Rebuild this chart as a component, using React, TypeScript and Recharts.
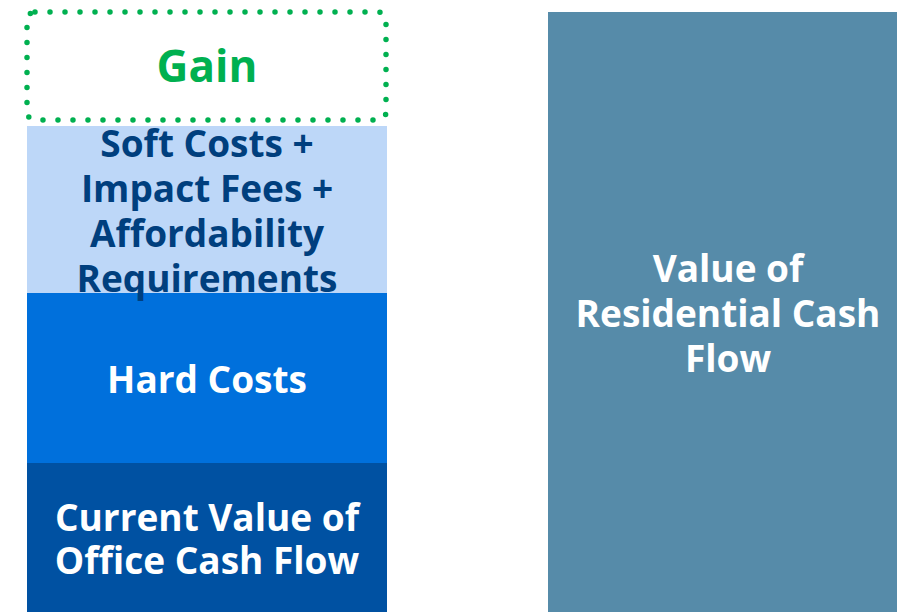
import React from 'react'
import { BarChart, Bar, XAxis, YAxis, LabelList } from 'recharts'

// Two stacked columns: office conversion build-up vs residential value
const categories = ['Office', 'Residential']
const officeValue = [149, 0]
const hardCosts = [170, 0]
const softCosts = [167, 0]
const gain = [114, 0]
const residentialValue = [0, 600]

const officeLines = ['Current Value of', 'Office Cash Flow']
const hardLines = ['Hard Costs']
const softLines = ['Soft Costs +', 'Impact Fees +', 'Affordability', 'Requirements']
const gainLines = ['Gain']
const residentialLines = ['Value of', 'Residential Cash', 'Flow']

const data = categories.map((name, i) => ({
  name,
  office: officeValue[i],
  hard: hardCosts[i],
  soft: softCosts[i],
  gain: gain[i],
  residential: residentialValue[i],
}))

const FONT = '"Open Sans", "Noto Sans", sans-serif'

function makeLabel(lines: string[], color: string, fontSize: number, lineHeight: number) {
  return (props: any) => {
    const { x, y, width, height, value } = props
    if (!value) return null
    const cx = Number(x) + Number(width) / 2
    const cy = Number(y) + Number(height) / 2
    const startY = cy - ((lines.length - 1) * lineHeight) / 2
    return (
      <text
        textAnchor="middle"
        fill={color}
        fontFamily={FONT}
        fontWeight={700}
        fontSize={fontSize}
      >
        {lines.map((l, i) => (
          <tspan key={i} x={cx} y={startY + i * lineHeight} dominantBaseline="central">
            {l}
          </tspan>
        ))}
      </text>
    )
  }
}

const GainShape = (props: any) => {
  const { x, y, width, height } = props
  if (!height) return null
  return (
    <rect
      x={x}
      y={y}
      width={width - 1}
      height={height - 6}
      rx={8}
      ry={8}
      fill="#ffffff"
      stroke="#00b050"
      strokeWidth={5.5}
      strokeDasharray="0 15"
      strokeLinecap="round"
    />
  )
}

export default function App() {
  return (
    <div
      style={{
        position: 'absolute',
        left: 0,
        top: 0,
        width: 897,
        height: 612,
        overflow: 'hidden',
        background: '#fff',
      }}
    >
      <div style={{ position: 'absolute', left: -54.5, top: 0 }}>
        <BarChart
          width={1042}
          height={612}
          data={data}
          margin={{ top: 12, right: 0, bottom: 0, left: 0 }}
          barSize={360}
        >
          <XAxis dataKey="name" hide />
          <YAxis hide domain={[0, 600]} />
          <Bar dataKey="office" stackId="a" fill="#0051a2" isAnimationActive={false}>
            <LabelList dataKey="office" content={makeLabel(officeLines, '#ffffff', 37, 43)} />
          </Bar>
          <Bar dataKey="hard" stackId="a" fill="#0070dc" isAnimationActive={false}>
            <LabelList dataKey="hard" content={makeLabel(hardLines, '#ffffff', 37, 44)} />
          </Bar>
          <Bar dataKey="soft" stackId="a" fill="#bdd7f8" isAnimationActive={false}>
            <LabelList dataKey="soft" content={makeLabel(softLines, '#003f7e', 37, 45)} />
          </Bar>
          <Bar dataKey="gain" stackId="a" shape={GainShape} isAnimationActive={false}>
            <LabelList
              dataKey="gain"
              content={(p: any) =>
                makeLabel(gainLines, '#00b050', 44, 44)({ ...p, height: Number(p.height) - 9 })
              }
            />
          </Bar>
          <Bar dataKey="residential" stackId="a" fill="#568ba9" isAnimationActive={false}>
            <LabelList dataKey="residential" content={makeLabel(residentialLines, '#ffffff', 37, 45)} />
          </Bar>
        </BarChart>
      </div>
    </div>
  )
}
